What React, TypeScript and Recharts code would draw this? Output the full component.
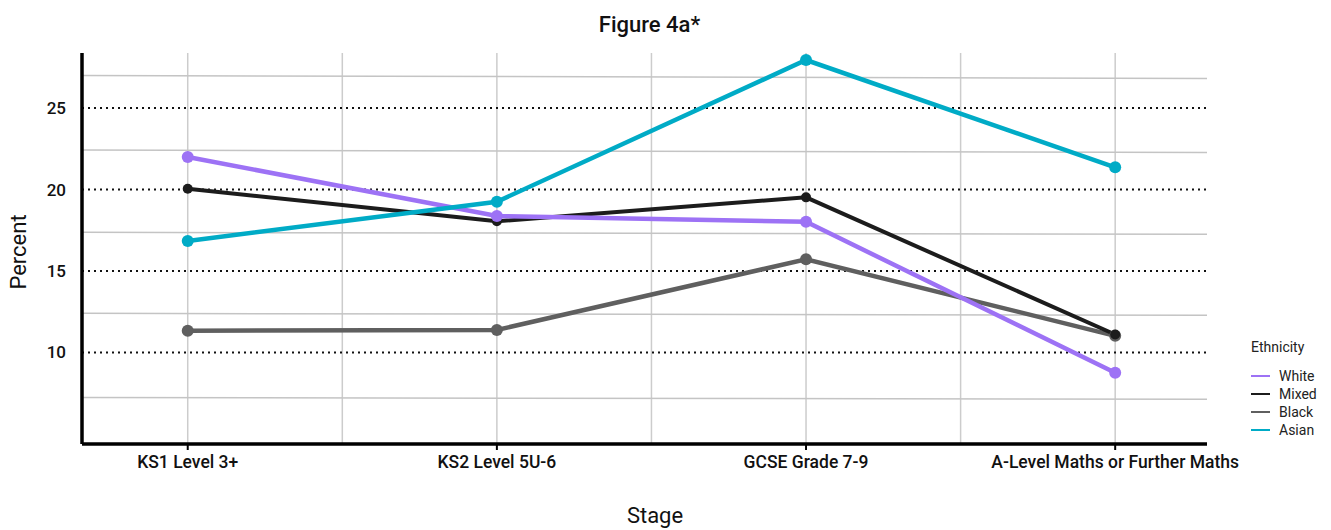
import React from "react";
import {
  LineChart,
  Line,
  XAxis,
  YAxis,
  CartesianGrid,
  ReferenceLine,
} from "recharts";

const categories = [
  "KS1 Level 3+",
  "KS2 Level 5U-6",
  "GCSE Grade 7-9",
  "A-Level Maths or Further Maths",
];
const seriesNames = ["White", "Mixed", "Black", "Asian"];
const white = [22.0, 18.37, 18.02, 8.75];
const mixed = [20.05, 18.05, 19.52, 11.1];
const black = [11.33, 11.38, 15.72, 11.02];
const asian = [16.84, 19.25, 27.95, 21.36];
const yTicks = [10, 15, 20, 25];
// light solid grid lines (left value, right value)
const minorGrid = [
  [27.0, 26.82],
  [22.42, 22.28],
  [17.37, 17.25],
  [12.4, 12.28],
  [7.24, 7.12],
];

const colors: Record<string, string> = {
  White: "#9d72f5",
  Mixed: "#1c1c1c",
  Black: "#5f5f5f",
  Asian: "#00abc6",
};

const data = categories.map((c, i) => ({
  x: i,
  name: c,
  White: white[i],
  Mixed: mixed[i],
  Black: black[i],
  Asian: asian[i],
}));

const X_DOMAIN: [number, number] = [-0.342, 3.297];
const FONT = "Roboto, 'Noto Sans', sans-serif";

const LegendBox = () => (
  <div
    style={{
      position: "absolute",
      left: 1251,
      top: 338,
      fontFamily: FONT,
      fontSize: 14,
      color: "#222",
      lineHeight: "18px",
    }}
  >
    <div style={{ marginBottom: 11, fontSize: 14 }}>Ethnicity</div>
    {seriesNames.map((s) => (
      <div key={s} style={{ display: "flex", alignItems: "center", height: 18 }}>
        <div style={{ width: 19, height: 2, background: colors[s], marginRight: 9 }} />
        <span>{s}</span>
      </div>
    ))}
  </div>
);

export default function App() {
  const drawOrder = ["Black", "Mixed", "White", "Asian"];
  return (
    <div style={{ position: "absolute", left: 0, top: 0, width: 1331, height: 530, background: "#fff" }}>
      <div
        style={{
          position: "absolute",
          left: 0,
          width: 1299,
          top: 12,
          textAlign: "center",
          fontFamily: FONT,
          fontSize: 22,
          fontWeight: 500,
          color: "#111",
          lineHeight: "26px",
        }}
      >
        Figure 4a*
      </div>
      <div
        style={{
          position: "absolute",
          left: 18,
          top: 252,
          transform: "translate(-50%, -50%) rotate(-90deg)",
          fontFamily: FONT,
          fontSize: 22,
          color: "#111",
          whiteSpace: "nowrap",
        }}
      >
        Percent
      </div>
      <div
        style={{
          position: "absolute",
          left: 655,
          top: 515,
          transform: "translate(-50%, -50%)",
          fontFamily: FONT,
          fontSize: 22,
          color: "#111",
          whiteSpace: "nowrap",
        }}
      >
        Stage
      </div>
      <LegendBox />
      <LineChart
        width={1331}
        height={530}
        data={data}
        margin={{ top: 53, right: 124, left: 0, bottom: 46 }}
      >
        <CartesianGrid
          horizontal={false}
          verticalValues={[0, 0.5, 1, 1.5, 2, 2.5, 3]}
          stroke="#cccccc"
          strokeWidth={1.5}
        />
        {minorGrid.map((g, i) => (
          <ReferenceLine
            key={"m" + i}
            segment={[
              { x: X_DOMAIN[0], y: g[0] },
              { x: X_DOMAIN[1], y: g[1] },
            ]}
            stroke="#c4c4c4"
            strokeWidth={1.5}
          />
        ))}
        {yTicks.map((v) => (
          <ReferenceLine
            key={"d" + v}
            y={v}
            stroke="#111"
            strokeWidth={2}
            strokeDasharray="2 4"
          />
        ))}
        <XAxis
          dataKey="x"
          type="number"
          domain={X_DOMAIN}
          ticks={[0, 1, 2, 3]}
          interval={0}
          allowDataOverflow
          tickFormatter={(v: number) => categories[v]}
          height={40}
          axisLine={{ stroke: "#000", strokeWidth: 3.5 }}
          tickLine={{ stroke: "#000", strokeWidth: 2 }}
          tickSize={6}
          tickMargin={6}
          tick={{ fontFamily: FONT, fontSize: 17.5, fontWeight: 500, fill: "#111" }}
        />
        <YAxis
          type="number"
          domain={[4.38, 28.38]}
          ticks={yTicks}
          allowDataOverflow
          width={82}
          axisLine={{ stroke: "#000", strokeWidth: 3.5 }}
          tickLine={false}
          tickSize={0}
          tickMargin={16}
          tick={{ fontFamily: FONT, fontSize: 17, fontWeight: 500, fill: "#111" }}
        />
        {drawOrder.map((s) => (
          <Line
            key={s}
            type="linear"
            dataKey={s}
            stroke={colors[s]}
            strokeWidth={s === "Mixed" ? 4 : 4.5}
            dot={{ r: s === "Mixed" ? 5 : 6, fill: colors[s], stroke: colors[s], strokeWidth: 0 }}
            activeDot={false}
            isAnimationActive={false}
          />
        ))}
      </LineChart>
    </div>
  );
}
